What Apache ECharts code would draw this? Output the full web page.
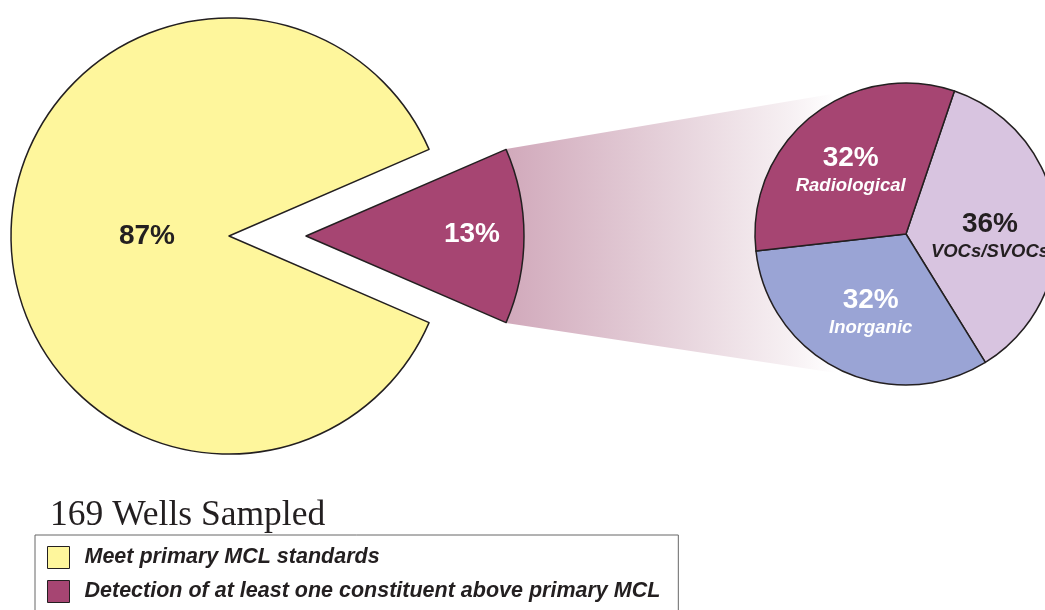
<!DOCTYPE html>
<html>
<head>
<meta charset="utf-8">
<script src="https://cdn.jsdelivr.net/npm/echarts@6/dist/echarts.min.js"></script>
<style>html,body{margin:0;padding:0;background:#fff;}#c{width:1045px;height:610px;}</style>
</head>
<body>
<div id="c"></div>
<script>
// Data
var mainNames = ['Meet primary MCL standards', 'Detection of at least one constituent above primary MCL'];
var mainValues = [87, 13];
var subNames = ['VOCs/SVOCs', 'Inorganic', 'Radiological'];
var subValues = [36, 32, 32];
var titleText = '169 Wells Sampled';

var mainColors = ['#fef69c', '#a64572'];
var subColors = ['#d8c4e0', '#9aa4d5', '#a64572'];
var subLabelColors = ['#231f20', '#ffffff', '#ffffff'];

var chart = echarts.init(document.getElementById('c'));

var mainData = mainNames.map(function (n, i) {
  return {
    name: n, value: mainValues[i], selected: i === 1,
    itemStyle: { color: mainColors[i] },
    label: { color: i === 1 ? '#ffffff' : '#231f20' }
  };
});
var subData = subNames.map(function (n, i) {
  return {
    name: n, value: subValues[i],
    itemStyle: { color: subColors[i] },
    label: {
      rich: {
        p: { fontSize: 28, fontWeight: 'bold', color: subLabelColors[i], fontFamily: 'Liberation Sans', lineHeight: 29 },
        n: { fontSize: 18.5, fontWeight: 'bold', fontStyle: 'italic', color: subLabelColors[i], fontFamily: 'Liberation Sans', lineHeight: 26 }
      }
    }
  };
});

var mainShift = [[30, 0], [54, -2]];
var subShift = [[6, 12], [-1, 9], [-6, -2]];

chart.setOption({
  animation: false,
  backgroundColor: '#ffffff',
  title: {
    text: titleText, left: 45, top: 493,
    textStyle: { fontFamily: 'Liberation Serif', fontSize: 35.5, fontWeight: 'normal', color: '#231f20' }
  },
  legend: {
    data: mainNames,
    orient: 'vertical',
    left: 35, top: 535,
    height: 200,
    padding: [11, 18, 14, 12],
    itemGap: 11,
    itemWidth: 22, itemHeight: 22,
    icon: 'rect',
    borderColor: '#666',
    borderWidth: 1,
    selectedMode: false,
    itemStyle: { borderColor: '#231f20', borderWidth: 1 },
    textStyle: { fontFamily: 'Liberation Sans', fontSize: 21.5, fontWeight: 'bold', fontStyle: 'italic', color: '#231f20', padding: [0, 0, 0, 10] }
  },
  graphic: [{
    type: 'polygon', z: 0, silent: true,
    shape: { points: [[506, 149], [832, 94], [836, 373], [506, 323]] },
    style: {
      fill: new echarts.graphic.LinearGradient(0, 0, 1, 0, [
        { offset: 0, color: '#d1a9bb' },
        { offset: 0.55, color: '#e8d6de' },
        { offset: 0.85, color: '#f6eff2' },
        { offset: 1, color: '#ffffff' }
      ])
    }
  }],
  series: [{
    type: 'pie', z: 3,
    center: [229, 236], radius: 218,
    startAngle: -23.4, clockwise: true,
    selectedMode: 'single', selectedOffset: 77,
    emphasis: { disabled: true },
    itemStyle: { borderColor: '#231f20', borderWidth: 1.5 },
    label: { position: 'inside', formatter: '{c}%', fontFamily: 'Liberation Sans', fontSize: 28, fontWeight: 'bold' },
    labelLine: { show: false },
    labelLayout: function (p) { var s = mainShift[p.dataIndex]; return { dx: s[0], dy: s[1] }; },
    data: mainData
  }, {
    type: 'pie', z: 3,
    center: [906, 234], radius: 151,
    startAngle: 71.3, clockwise: true,
    emphasis: { disabled: true },
    itemStyle: { borderColor: '#231f20', borderWidth: 1.5 },
    label: { position: 'inside', formatter: '{p|{c}%}\n{n|{b}}', align: 'center' },
    labelLine: { show: false },
    labelLayout: function (p) { var s = subShift[p.dataIndex]; return { dx: s[0], dy: s[1] }; },
    data: subData
  }]
});
</script>
</body>
</html>
